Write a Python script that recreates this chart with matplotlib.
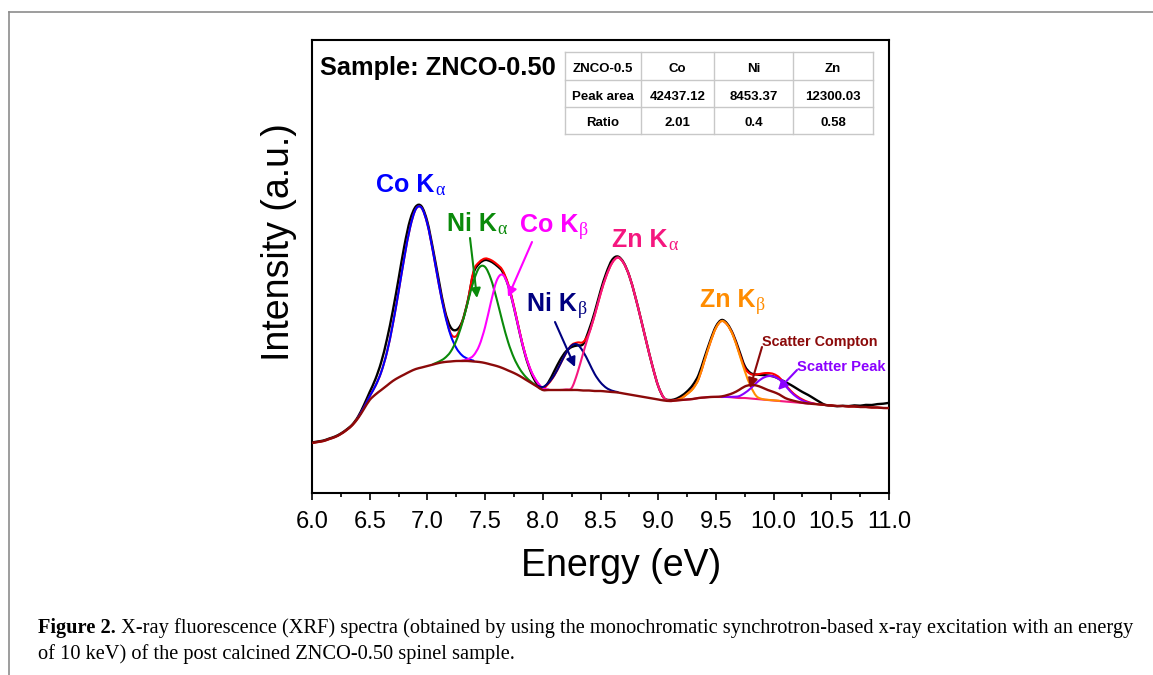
import numpy as np
import matplotlib
matplotlib.use("Agg")
import matplotlib.pyplot as plt
from matplotlib.lines import Line2D
from matplotlib.path import Path
from matplotlib.patches import PathPatch
from matplotlib.ticker import MultipleLocator

W, H = 1153, 675
SANS = "Liberation Sans"
SERIF = "Liberation Serif"

# energy channels, 0.05 eV apart
energy = np.linspace(6.0, 11.0, 101)

# values (a.u.)
background = [
    50, 51, 52, 54, 56, 59, 63, 68, 75, 84,
    93, 98.5, 103, 107.5, 112, 115.5, 118.5, 121.5, 124, 125.5,
    127, 128.5, 130, 131, 131.5, 132, 132, 132, 131.5, 131,
    130, 128.5, 127, 125, 122.5, 120, 117, 113.5, 110, 106.5,
    103, 103, 103, 103, 103, 103, 103, 102.5, 102.5, 102,
    102, 101.5, 101, 100.5, 99.5, 98.5, 97.5, 96.5, 95.5, 94.5,
    93.5, 92.5, 92, 92.5, 93, 93.5, 94, 95, 95.5, 96,
    96, 96, 96, 95.5, 95, 95, 94.5, 94, 93.5, 93,
    92.5, 92, 91.5, 91, 90.5, 90, 89.5, 89, 88.5, 88,
    87.5, 87, 87, 86.5, 86.5, 86, 86, 85.5, 85.5, 85,
    85]

measured = [
    50.5, 51.5, 52.5, 54.5, 56.5, 59.5, 63.5, 68.5, 76.5, 88,
    101, 114, 131, 154, 182, 214, 247, 273, 286.5, 286.5,
    271, 243, 212, 183, 166, 163, 171, 192, 220, 229.5,
    233, 231.5, 227.5, 221.5, 207.5, 185.5, 160, 137, 120, 109,
    104.5, 111, 122, 133, 141.5, 146, 147.5, 149, 163, 181,
    202, 220, 233, 236.5, 230.5, 217, 197, 174, 150, 127,
    107, 95, 93, 94, 97, 101.5, 108, 118, 135, 152,
    166.5, 173, 169, 158.5, 143, 127, 120, 118.5, 118, 117.5,
    116.5, 114, 111, 108, 104.5, 101, 98, 94.5, 91, 88,
    87.5, 86.8, 87.2, 86.9, 87.6, 87.3, 88.1, 88.0, 88.9, 89.3,
    90.2]

fit_total = [
    50, 51, 52, 54, 56, 59, 63, 68, 75.5, 85.5,
    96.8, 107.2, 121, 141, 168.5, 201.2, 235.5, 265.5, 284, 285.1,
    268.8, 240.3, 208.2, 181, 160, 157, 170.5, 192, 222, 231,
    234.5, 233, 229, 223, 209, 187, 161, 138, 121.5, 111,
    105, 109.5, 117.5, 128.5, 139.5, 148, 150.5, 151, 160, 178,
    199, 217, 230, 235.5, 230, 217, 197, 174, 150, 127,
    107, 95, 92.5, 93, 95, 99, 104.5, 114, 132, 150,
    165, 172, 168, 157.5, 141, 125, 119, 118.5, 119.5, 120,
    119, 115.5, 108.5, 102, 97, 93.5, 91, 89.5, 88.5, 88,
    87.5, 87, 87, 86.5, 86.5, 86, 86, 85.5, 85.5, 85,
    85]

# fitted components over their own span: (first energy, values)
co_ka = (6.40, [75.5, 85.5, 96.8, 107.2, 121, 141, 168.5, 201.2, 235.5, 265.5, 284,
                285.1, 268.8, 240.3, 208.2, 179.6, 158.3, 145.1, 137.7, 134.2, 132.3])
ni_ka = (7.05, [128.9, 131.4, 134.9, 141.1, 152.3, 169.2, 190.8, 211.8, 225.5, 226.0,
                214.1, 194.2, 171.4, 150.7, 135.1, 124.1, 116.4, 111.1, 106.8, 103.2])
co_kb = (7.30, [132.4, 133.8, 137.6, 147.6, 166.0, 190.6, 212.3, 218.4, 207.4, 185.7,
                160.3, 137.9, 121.7, 111.3, 104.7, 103.5])
ni_kb = (7.95, [107.5, 106, 110.3, 118, 128.6, 139.8, 147.6, 148.4, 141.3, 130.4,
                118.9, 110.6, 105.2, 102.3, 100.9])
zn_ka = (8.15, [103, 103.5, 105, 120, 140, 159, 178, 199, 217, 230, 235.5, 230, 217,
                197, 174, 150, 127, 107, 95, 92] + background[63:87])
zn_kb = (9.15, [92.5, 94.5, 99, 104, 114, 132, 150, 165, 172, 168, 157, 140, 122, 107,
                97, 94, 93.2, 92.7, 92.2])
scatter_peak = (9.55, [96, 96.1, 96.2, 96.8, 100, 104.5, 110, 114.5, 116.8, 116.5,
                       113.5, 107.5, 101, 96, 92.5, 90.3, 89.2])
compton = [96, 96.2, 96.6, 98, 100, 103, 106.5, 108, 107.5, 105.5, 103, 101, 98.5,
           95, 93, 91.5, 90.3, 89.5]
compton_line = background[:69] + compton + background[87:]

tick_vals = [6.0, 6.5, 7.0, 7.5, 8.0, 8.5, 9.0, 9.5, 10.0, 10.5, 11.0]
tick_text = ["6.0", "6.5", "7.0", "7.5", "8.0", "8.5", "9.0", "9.5", "10.0", "10.5", "11.0"]

table_rows = [["ZNCO-0.5", "Co", "Ni", "Zn"],
              ["Peak area", "42437.12", "8453.37", "12300.03"],
              ["Ratio", "2.01", "0.4", "0.58"]]


def span(comp):
    start, vals = comp
    i0 = int(round((start - 6.0) / 0.05))
    return energy[i0:i0 + len(vals)], vals


def smooth_line(x, y, color, lw, z):
    # spline-connected line (like Origin's "spline" connect)
    pts = np.column_stack([np.asarray(x, float), np.asarray(y, float)])
    ext = np.vstack([pts[0], pts, pts[-1]])
    verts = [pts[0]]
    codes = [Path.MOVETO]
    for i in range(len(pts) - 1):
        p0, p1, p2, p3 = ext[i], ext[i + 1], ext[i + 2], ext[i + 3]
        verts += [p1 + (p2 - p0) / 6, p2 - (p3 - p1) / 6, p2]
        codes += [Path.CURVE4] * 3
    ax.add_patch(PathPatch(Path(verts, codes), fill=False, edgecolor=color, lw=lw,
                           zorder=z, capstyle="round", joinstyle="round"))


def to_data(px, py):
    return 6.0 + (px - 312) / 115.4, 493 - py


def fx(px):
    return px / W


def fy(py):
    return 1 - py / H


fig = plt.figure(figsize=(W / 100, H / 100), dpi=100)
ax = fig.add_axes([fx(312), fy(493), 577 / W, 453 / H])

lw = 1.5
smooth_line(energy, measured, "black", lw + 0.2, 2)
smooth_line(energy, fit_total, "#ff0000", lw, 3)
for comp, col in [(co_ka, "#0000ff"), (ni_ka, "#0a8a0a"), (co_kb, "#ff00ff"),
                  (ni_kb, "#000080"), (zn_ka, "#f5177f"), (zn_kb, "#ff8c00"),
                  (scatter_peak, "#8a00ff")]:
    x, y = span(comp)
    smooth_line(x, y, col, lw, 4)
smooth_line(energy, compton_line, "#8b0a0a", lw + 0.2, 5)

ax.set_xlim(6.0, 11.0)
ax.set_ylim(0, 453)
ax.set_xticks(tick_vals)
ax.set_xticklabels(tick_text, fontsize=17, family=SANS)
ax.xaxis.set_minor_locator(MultipleLocator(0.25))
ax.set_yticks([])
ax.tick_params(axis="x", which="major", direction="out", length=5, width=1.2, pad=8)
ax.tick_params(axis="x", which="minor", direction="out", length=3, width=1.2)
for s in ax.spines.values():
    s.set_linewidth(1.5)

fig.text(fx(621), fy(566), "Energy (eV)", fontsize=27, family=SANS, ha="center", va="center")
fig.text(fx(279), fy(242), "Intensity (a.u.)", fontsize=27, family=SANS, ha="center",
         va="center", rotation=90)


def peak_label(px, py, main, sub, color):
    x, y = to_data(px, py)
    t = ax.text(x, y, main, color=color, fontsize=18, fontweight="bold", family=SANS,
                va="baseline", ha="left", zorder=6)
    ax.annotate(sub, xy=(1, 0), xycoords=t, xytext=(0.5, -1.5), textcoords="offset points",
                color=color, fontsize=13, family=SERIF, va="bottom", ha="left",
                annotation_clip=False)


def arrow(tail, tip, color):
    ax.annotate("", xy=to_data(*tip), xytext=to_data(*tail),
                arrowprops=dict(arrowstyle="-|>", color=color, lw=1.5, mutation_scale=14,
                                shrinkA=0, shrinkB=0), zorder=6)


peak_label(376, 192, "Co K", "\u03b1", "#0000ff")
peak_label(447, 231, "Ni K", "\u03b1", "#0a8a0a")
peak_label(520, 232, "Co K", "\u03b2", "#ff00ff")
peak_label(527, 311, "Ni K", "\u03b2", "#000080")
peak_label(612, 247, "Zn K", "\u03b1", "#f5177f")
peak_label(700, 307, "Zn K", "\u03b2", "#ff8c00")

x, y = to_data(762, 342)
ax.text(x, y, "Scatter Compton", color="#8b0a0a", fontsize=10.4, fontweight="bold",
        family=SANS, va="center", ha="left")
x, y = to_data(797, 367)
ax.text(x, y, "Scatter Peak", color="#8a00ff", fontsize=10.6, fontweight="bold",
        family=SANS, va="center", ha="left")

arrow((470, 238), (477, 298), "#0a8a0a")
arrow((532, 242), (508, 297), "#ff00ff")
arrow((555, 322), (575, 367), "#000080")
arrow((762, 347), (750, 388), "#8b0a0a")
arrow((797, 370), (778, 390), "#8a00ff")

# sample name and the small table
fig.text(fx(320), fy(75), "Sample: ZNCO-0.50", fontsize=18.3, fontweight="bold",
         family=SANS, va="baseline", ha="left")
col_x = [565, 641, 714, 793, 873]
row_y = [52, 80, 107, 134]
for py in row_y:
    fig.add_artist(Line2D([fx(col_x[0]), fx(col_x[-1])], [fy(py), fy(py)],
                          color="#c8c8c8", lw=1))
for px in col_x:
    fig.add_artist(Line2D([fx(px), fx(px)], [fy(row_y[0]), fy(row_y[-1])],
                          color="#c8c8c8", lw=1))
for r, row in enumerate(table_rows):
    cy = (row_y[r] + row_y[r + 1]) / 2 + 6
    for c, txt in enumerate(row):
        cx = (col_x[c] + col_x[c + 1]) / 2
        fig.text(fx(cx), fy(cy), txt, fontsize=9.5, fontweight="bold", family=SANS,
                 ha="center", va="baseline")

# page frame and caption
fig.add_artist(Line2D([fx(9), 1], [fy(12), fy(12)], color="#8c8c8c", lw=1.2))
fig.add_artist(Line2D([fx(9), fx(9)], [fy(12), 0], color="#8c8c8c", lw=1.2))

cap_size = 14.7
t1 = fig.text(fx(38), fy(633), "Figure 2.", fontsize=cap_size, fontweight="bold",
              family=SERIF, va="baseline", ha="left")
ax.annotate(" X-ray fluorescence (XRF) spectra (obtained by using the monochromatic "
            "synchrotron-based x-ray excitation with an energy",
            xy=(1, 0), xycoords=t1, va="bottom", ha="left", fontsize=cap_size,
            family=SERIF, annotation_clip=False)
fig.text(fx(38), fy(659), "of 10 keV) of the post calcined ZNCO-0.50 spinel sample.",
         fontsize=cap_size, family=SERIF, va="baseline", ha="left")

fig.savefig("out.png", dpi=100)
